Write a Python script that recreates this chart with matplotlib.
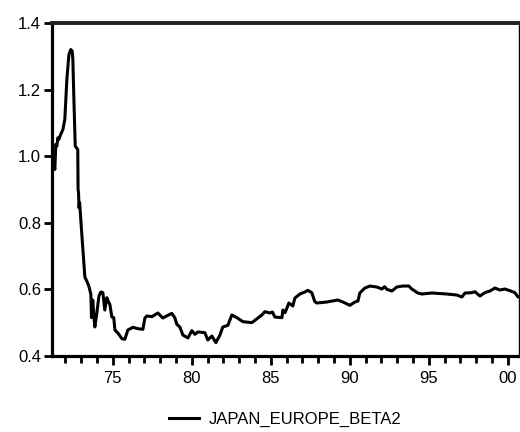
import numpy as np
import matplotlib.pyplot as plt
from matplotlib.ticker import FixedLocator, MultipleLocator

plt.rcParams['font.family'] = ['Liberation Sans', 'DejaVu Sans']

# rolling beta, Japan vs Europe (decimal year, value)
years = [
    1971.27, 1971.33, 1971.39, 1971.46, 1971.52, 1971.58, 1971.70, 1971.84, 1971.96,
    1972.09, 1972.22, 1972.34, 1972.43, 1972.47, 1972.53, 1972.62, 1972.70, 1972.78,
    1972.80, 1972.83, 1972.86, 1972.90, 1973.00, 1973.23, 1973.35, 1973.48, 1973.61,
    1973.65, 1973.73, 1973.80, 1973.86, 1973.99, 1974.12, 1974.24, 1974.37, 1974.49,
    1974.62, 1974.75, 1974.81, 1974.94, 1975.06, 1975.13, 1975.32, 1975.45, 1975.57,
    1975.76, 1975.95, 1976.27, 1976.58, 1976.90, 1977.03, 1977.15, 1977.47, 1977.85,
    1978.16, 1978.73, 1978.92, 1979.05, 1979.24, 1979.43, 1979.75, 1980.00, 1980.19,
    1980.38, 1980.82, 1981.01, 1981.27, 1981.52, 1981.77, 1981.96, 1982.28, 1982.53,
    1982.85, 1983.23, 1983.80, 1984.18, 1984.43, 1984.62, 1984.94, 1985.10, 1985.25,
    1985.70, 1985.76, 1985.90, 1986.14, 1986.39, 1986.52, 1986.84, 1987.15, 1987.34,
    1987.59, 1987.78, 1987.91, 1988.54, 1989.24, 1989.56, 1990.00, 1990.32, 1990.51,
    1990.63, 1990.95, 1991.27, 1991.71, 1992.03, 1992.20, 1992.34, 1992.66, 1992.97,
    1993.35, 1993.73, 1993.92, 1994.30, 1994.56, 1995.19, 1996.14, 1996.77, 1997.09,
    1997.28, 1997.72, 1997.91, 1998.23, 1998.54, 1998.86, 1999.18, 1999.49, 1999.81,
    2000.13, 2000.44, 2000.63,
]
beta = [
    0.975, 0.960, 1.035, 1.030, 1.055, 1.050, 1.065, 1.080, 1.110,
    1.230, 1.305, 1.320, 1.315, 1.290, 1.180, 1.030, 1.025, 1.020,
    0.900, 0.890, 0.845, 0.860, 0.790, 0.637, 0.625, 0.610, 0.585,
    0.515, 0.568, 0.520, 0.487, 0.530, 0.580, 0.592, 0.590, 0.538,
    0.575, 0.560, 0.555, 0.517, 0.515, 0.478, 0.469, 0.460, 0.452,
    0.450, 0.478, 0.486, 0.482, 0.480, 0.514, 0.520, 0.518, 0.529,
    0.514, 0.528, 0.515, 0.495, 0.487, 0.463, 0.454, 0.476, 0.465,
    0.472, 0.470, 0.448, 0.460, 0.440, 0.462, 0.487, 0.492, 0.523,
    0.515, 0.503, 0.500, 0.514, 0.523, 0.533, 0.529, 0.532, 0.517,
    0.515, 0.538, 0.530, 0.559, 0.550, 0.574, 0.586, 0.592, 0.597,
    0.590, 0.563, 0.559, 0.562, 0.568, 0.562, 0.552, 0.562, 0.565,
    0.589, 0.604, 0.610, 0.607, 0.601, 0.608, 0.600, 0.595, 0.607,
    0.610, 0.610, 0.601, 0.589, 0.586, 0.589, 0.586, 0.583, 0.577,
    0.589, 0.590, 0.593, 0.580, 0.590, 0.595, 0.604, 0.598, 0.601,
    0.596, 0.590, 0.578,
]
major_years = [1975, 1980, 1985, 1990, 1995, 2000]
major_labels = ['75', '80', '85', '90', '95', '00']
y_ticks = [0.4, 0.6, 0.8, 1.0, 1.2, 1.4]

fig = plt.figure(figsize=(5.2, 4.32), dpi=100)
ax = fig.add_axes([0.1, 0.176, 0.898, 0.771])

ax.plot(years, beta, color='black', lw=2.2, label='JAPAN_EUROPE_BETA2')

ax.set_xlim(1971.15, 2000.7)
ax.set_ylim(0.4, 1.4)

ax.xaxis.set_major_locator(FixedLocator(major_years))
ax.set_xticklabels(major_labels)
ax.xaxis.set_minor_locator(MultipleLocator(1))
ax.set_yticks(y_ticks)
ax.set_yticklabels([f'{v:.1f}' for v in y_ticks])

ax.tick_params(axis='both', which='major', direction='out', width=2, labelsize=12, color='black')
ax.tick_params(axis='x', which='major', length=6.5, pad=4)
ax.tick_params(axis='x', which='minor', length=5, width=2)
ax.tick_params(axis='y', which='major', length=6, pad=2)

ax.spines['left'].set_linewidth(2.3)
ax.spines['bottom'].set_linewidth(2.3)
ax.spines['top'].set_linewidth(2.8)
ax.spines['top'].set_color('#222222')
ax.spines['right'].set_linewidth(1.0)

ax.legend(loc='center', bbox_to_anchor=(0.5, -0.19), frameon=False, fontsize=12,
          handlelength=1.8, handletextpad=0.6)

fig.savefig('out.png', dpi=100)
